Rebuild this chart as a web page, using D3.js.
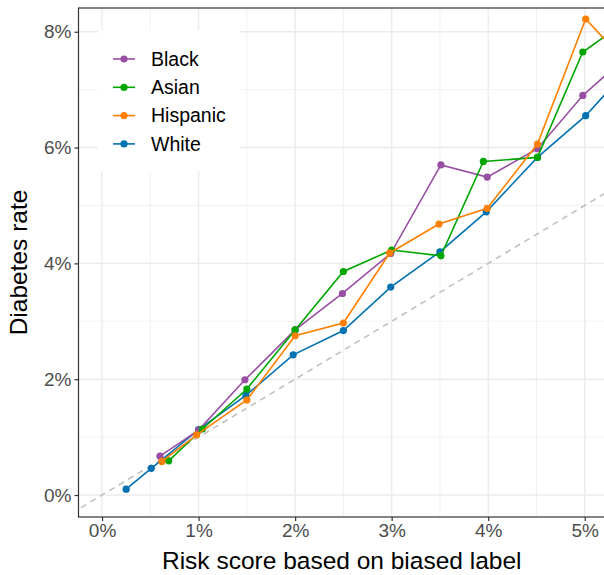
<!DOCTYPE html>
<html><head><meta charset="utf-8">
<script src="https://cdn.jsdelivr.net/npm/d3@7"></script>
<style>body{margin:0;background:#fff}svg{display:block}text{font-family:"Liberation Sans",Arial,sans-serif}</style>
</head><body>
<script>
const groups = ["Black","Asian","Hispanic","White"];
const colors = ["#984EA3","#00A600","#FF7F00","#0072B2"];
const blackX = [0.60,1.00,1.48,2.00,2.49,2.99,3.51,3.99,4.51,4.98,5.50];
const blackY = [0.67,1.12,1.99,2.85,3.48,4.17,5.70,5.49,5.98,6.90,7.67];
const asianX = [0.69,1.04,1.50,2.00,2.50,3.00,3.51,3.95,4.51,4.98,5.50];
const asianY = [0.59,1.14,1.83,2.85,3.86,4.23,4.13,5.76,5.83,7.65,8.26];
const hispX  = [0.62,0.98,1.50,2.00,2.50,2.98,3.49,3.99,4.51,5.01,5.50];
const hispY  = [0.58,1.04,1.64,2.75,2.97,4.18,4.68,4.95,6.06,8.22,7.34];
const whiteX = [0.25,0.51,1.00,1.49,1.98,2.50,2.99,3.50,3.98,4.51,5.01,5.50];
const whiteY = [0.10,0.46,1.13,1.72,2.42,2.84,3.59,4.20,4.89,5.83,6.55,7.45];
const xTicks = [0,1,2,3,4,5];
const yTicks = [0,2,4,6,8];
const xMinor = [0.5,1.5,2.5,3.5,4.5];
const yMinor = [1,3,5,7];
const xTitle = "Risk score based on biased label";
const yTitle = "Diabetes rate";

const series = {
  Black: blackX.map((x,i)=>[x,blackY[i]]),
  Asian: asianX.map((x,i)=>[x,asianY[i]]),
  Hispanic: hispX.map((x,i)=>[x,hispY[i]]),
  White: whiteX.map((x,i)=>[x,whiteY[i]])
};
const color = d3.scaleOrdinal(groups, colors);

const W=604, H=575;
const L=78.5, R=605, T=8, B=517;
const x = d3.scaleLinear().domain([-0.244,5.21]).range([L,R]);
const y = d3.scaleLinear().domain([-0.38,8.41]).range([B,T]);

const svg = d3.select("body").append("svg").attr("width",W).attr("height",H);
svg.append("defs").append("clipPath").attr("id","clip")
  .append("rect").attr("x",L).attr("y",T).attr("width",R-L).attr("height",B-T);

// grid
const grid = svg.append("g");
grid.selectAll(".xm").data(xMinor).join("line").attr("class","xm")
  .attr("x1",d=>x(d)).attr("x2",d=>x(d)).attr("y1",T).attr("y2",B)
  .attr("stroke","#ebebeb").attr("stroke-width",0.7);
grid.selectAll(".ym").data(yMinor).join("line").attr("class","ym")
  .attr("y1",d=>y(d)).attr("y2",d=>y(d)).attr("x1",L).attr("x2",R)
  .attr("stroke","#ebebeb").attr("stroke-width",0.7);
grid.selectAll(".xM").data(xTicks).join("line").attr("class","xM")
  .attr("x1",d=>x(d)).attr("x2",d=>x(d)).attr("y1",T).attr("y2",B)
  .attr("stroke","#ebebeb").attr("stroke-width",1.4);
grid.selectAll(".yM").data(yTicks).join("line").attr("class","yM")
  .attr("y1",d=>y(d)).attr("y2",d=>y(d)).attr("x1",L).attr("x2",R)
  .attr("stroke","#ebebeb").attr("stroke-width",1.4);

const plot = svg.append("g").attr("clip-path","url(#clip)");
// identity line
plot.append("line").attr("x1",x(-1)).attr("y1",y(-1)).attr("x2",x(9)).attr("y2",y(9))
  .attr("stroke","#bebebe").attr("stroke-width",1.5).attr("stroke-dasharray","6,5");

const line = d3.line().x(d=>x(d[0])).y(d=>y(d[1]));
const order = ["White","Black","Asian","Hispanic"];
order.forEach(g=>{
  const gg = plot.append("g");
  gg.append("path").datum(series[g]).attr("d",line).attr("fill","none")
    .attr("stroke",color(g)).attr("stroke-width",1.6);
  gg.selectAll("circle").data(series[g]).join("circle")
    .attr("cx",d=>x(d[0])).attr("cy",d=>y(d[1])).attr("r",3.6).attr("fill",color(g));
});

// panel border
svg.append("rect").attr("x",L).attr("y",T).attr("width",R-L).attr("height",B-T)
  .attr("fill","none").attr("stroke","#333").attr("stroke-width",1.2);

// axes
const xa = svg.append("g").attr("transform",`translate(0,${B})`)
  .call(d3.axisBottom(x).tickValues(xTicks).tickSize(4).tickPadding(3).tickFormat(d=>d+"%"));
const ya = svg.append("g").attr("transform",`translate(${L},0)`)
  .call(d3.axisLeft(y).tickValues(yTicks).tickSize(4).tickPadding(3).tickFormat(d=>d+"%"));
[xa,ya].forEach(a=>{
  a.select(".domain").remove();
  a.selectAll(".tick line").attr("stroke","#333").attr("stroke-width",1.2);
  a.selectAll(".tick text").attr("fill","#4d4d4d").style("font-size","19px")
    .style("font-family","'Liberation Sans',Arial,sans-serif");
});

svg.append("text").attr("x",(L+R)/2).attr("y",569).attr("text-anchor","middle")
  .style("font-size","24.5px").attr("fill","#000").text(xTitle);
svg.append("text").attr("transform",`translate(27,${(T+B)/2}) rotate(-90)`)
  .attr("text-anchor","middle").style("font-size","24.5px").attr("fill","#000").text(yTitle);

// legend
const lg = svg.append("g");
lg.append("rect").attr("x",98).attr("y",30).attr("width",142).attr("height",141).attr("fill","#fff");
groups.forEach((g,i)=>{
  const yy = 59 + i*28.3;
  lg.append("line").attr("x1",113).attr("x2",135).attr("y1",yy).attr("y2",yy)
    .attr("stroke",color(g)).attr("stroke-width",1.6);
  lg.append("circle").attr("cx",124).attr("cy",yy).attr("r",3.6).attr("fill",color(g));
  lg.append("text").attr("x",151).attr("y",yy).attr("dy","0.35em")
    .style("font-size","19.5px").attr("fill","#000").text(g);
});
</script>
</body></html>
